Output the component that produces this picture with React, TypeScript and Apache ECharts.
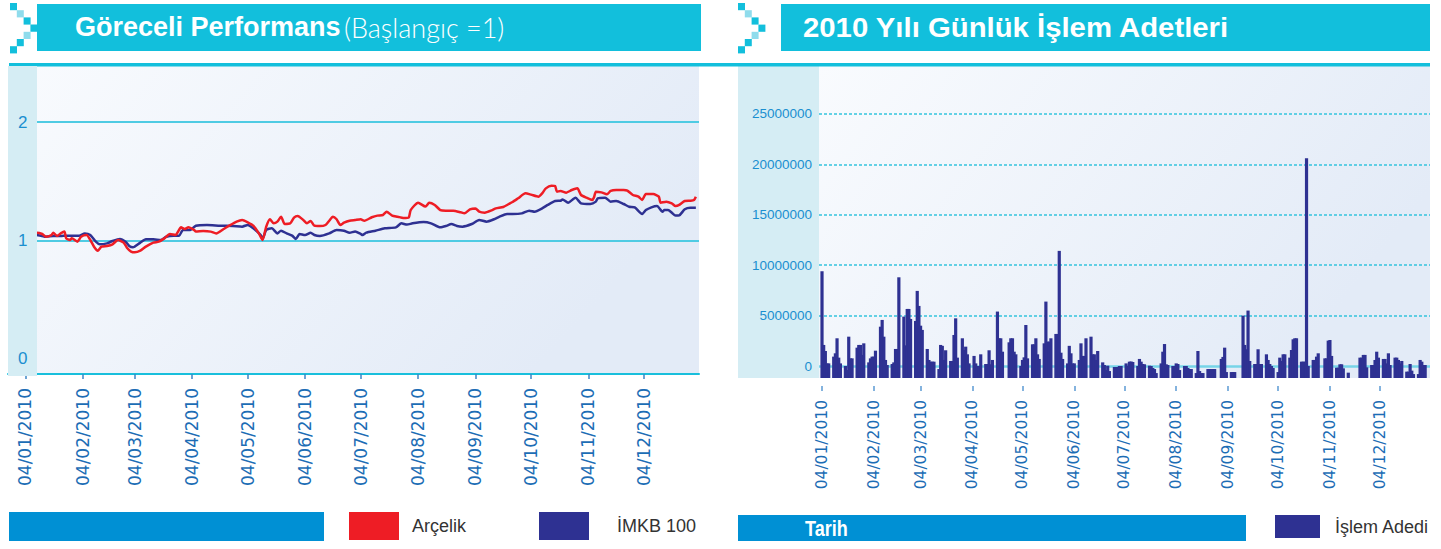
import React, { useEffect, useRef } from 'react';
import * as echarts from 'echarts';

// ---------- data ----------
const DAY = 86400000;
const Y0 = Date.UTC(2010, 0, 1);

const tickLabels = ['04/01/2010', '04/02/2010', '04/03/2010', '04/04/2010', '04/05/2010', '04/06/2010',
  '04/07/2010', '04/08/2010', '04/09/2010', '04/10/2010', '04/11/2010', '04/12/2010'];

const perfTicks = [0, 1, 2];
const perfGridLines = [1, 2];
const volTicks = [0, 5, 10, 15, 20, 25]; // millions

// Relative performance (start = 1); x = day of year 2010 (0 = 1 Jan)
const arcelikDays = [3, 6, 9, 12, 14, 17, 18, 20, 22, 24, 25, 27, 28, 31, 33, 36, 38, 40, 42, 44, 47, 50, 53, 56, 58, 60, 62, 65, 68, 72, 75, 78, 81, 84, 87, 89, 91, 94, 95, 99, 103, 106, 110, 113, 117, 120, 123, 126, 129, 131, 133, 135, 137, 139, 141, 143, 146, 148, 150, 153, 155, 157, 159, 162, 165, 167, 169, 171, 173, 175, 178, 181, 184, 186, 190, 193, 196, 198, 201, 204, 207, 210, 211, 215, 219, 221, 224, 227, 230, 234, 238, 240, 243, 246, 248, 251, 255, 257, 261, 264, 266, 269, 273, 276, 280, 282, 284, 287, 289, 290, 292, 295, 298, 301, 303, 306, 309, 310, 311, 314, 317, 319, 322, 326, 328, 331, 334, 336, 338, 342, 345, 346, 349, 352, 354, 356, 359, 362, 364, 365];
const arcelikValues = [1.0, 1.05, 1.066, 1.055, 1.032, 1.046, 1.066, 1.038, 1.06, 1.075, 1.018, 1.004, 1.018, 0.99, 1.032, 1.046, 1.004, 0.948, 0.914, 0.948, 0.954, 0.968, 1.004, 0.982, 0.934, 0.906, 0.9, 0.914, 0.948, 0.982, 0.99, 1.018, 1.055, 1.046, 1.111, 1.097, 1.111, 1.089, 1.075, 1.08, 1.075, 1.06, 1.097, 1.125, 1.159, 1.173, 1.153, 1.125, 1.06, 1.004, 1.117, 1.179, 1.145, 1.159, 1.201, 1.139, 1.145, 1.193, 1.207, 1.173, 1.145, 1.165, 1.125, 1.122, 1.131, 1.167, 1.201, 1.179, 1.131, 1.15, 1.167, 1.173, 1.179, 1.167, 1.196, 1.21, 1.215, 1.243, 1.21, 1.201, 1.19, 1.196, 1.257, 1.319, 1.286, 1.319, 1.3, 1.257, 1.252, 1.252, 1.238, 1.229, 1.263, 1.271, 1.243, 1.235, 1.257, 1.271, 1.283, 1.308, 1.325, 1.356, 1.398, 1.387, 1.37, 1.398, 1.44, 1.463, 1.46, 1.412, 1.418, 1.404, 1.426, 1.44, 1.384, 1.361, 1.342, 1.364, 1.412, 1.406, 1.39, 1.418, 1.426, 1.426, 1.421, 1.384, 1.37, 1.342, 1.392, 1.392, 1.37, 1.319, 1.328, 1.314, 1.291, 1.3, 1.333, 1.336, 1.342, 1.37];

const imkbDays = [3, 6, 9, 12, 14, 18, 22, 25, 29, 32, 35, 38, 41, 43, 47, 50, 54, 57, 59, 61, 65, 68, 72, 76, 79, 83, 86, 88, 92, 95, 101, 108, 115, 120, 123, 126, 130, 131, 133, 136, 139, 141, 144, 147, 149, 151, 154, 157, 159, 162, 167, 171, 175, 178, 181, 184, 185, 187, 192, 197, 203, 206, 209, 212, 218, 222, 227, 230, 233, 236, 239, 244, 248, 252, 256, 259, 263, 266, 271, 275, 278, 282, 285, 289, 292, 293, 296, 300, 303, 308, 311, 312, 316, 319, 322, 326, 329, 332, 336, 338, 341, 344, 347, 348, 350, 352, 354, 356, 359, 362, 365];
const imkbValues = [1.0, 1.03, 1.046, 1.038, 1.032, 1.038, 1.038, 1.041, 1.041, 1.041, 1.06, 1.046, 0.99, 0.968, 0.976, 0.996, 1.013, 0.99, 0.954, 0.942, 0.982, 1.01, 1.01, 1.004, 1.032, 1.041, 1.041, 1.089, 1.089, 1.125, 1.131, 1.125, 1.122, 1.117, 1.131, 1.103, 1.046, 1.013, 1.089, 1.103, 1.06, 1.083, 1.06, 1.041, 1.013, 1.055, 1.046, 1.066, 1.046, 1.038, 1.06, 1.089, 1.083, 1.066, 1.075, 1.055, 1.046, 1.066, 1.083, 1.103, 1.111, 1.145, 1.134, 1.145, 1.156, 1.145, 1.111, 1.122, 1.139, 1.122, 1.117, 1.139, 1.173, 1.159, 1.179, 1.201, 1.224, 1.224, 1.229, 1.252, 1.243, 1.271, 1.3, 1.333, 1.336, 1.347, 1.319, 1.361, 1.314, 1.308, 1.328, 1.356, 1.361, 1.328, 1.333, 1.308, 1.285, 1.28, 1.224, 1.257, 1.28, 1.291, 1.243, 1.257, 1.257, 1.235, 1.21, 1.212, 1.263, 1.277, 1.277];

// Daily trade counts (millions), one value per weekday of each month; null = no session
const volJan = [null, 9.4, 2.09, 1.49, 0.26, 0.26, 0.93, 1.26, 2.75, 0.83, 0.26, 0.0, -0.4, 2.91, 0.76, 0.76, 1.82, 2.09, 2.09, 1.1, 2.25];
const volFeb = [0.36, 0.76, 0.93, 0.93, 1.52, 3.9, 4.57, 2.91, 0.6, 0.1, 0.2, 0.36, 1.69, 1.69, 8.8, 4.9, 2.05, 5.66, 5.66, 4.67];
const volMar = [4.47, 7.45, 5.96, 4.0, 3.58, 1.69, 0.6, 0.43, 0.43, 0.43, -0.3, 2.09, 2.0, 0.6, 1.56, 0.5, 0.5, 3.08, 4.73, 0.83, 2.75, 1.59, 1.92];
const volApr = [1.16, 0.26, 1.0, 0.26, 0.0, 0.0, 1.16, 0.2, 0.2, 1.56, 0.17, 0.6, 5.4, 2.75, 2.75, 1.42, null, 2.35, 2.75, 2.75, 1.42, 1.16];
const volMay = [0.0, 0.6, 0.86, 4.07, 0.76, 2.15, 2.15, 2.75, 1.16, 0.7, 2.25, 6.39, 2.42, 2.42, 2.75, 3.18, 3.18, 11.42, 1.32, 0.7, 0.26];
const volJun = [2.0, 1.26, 0.26, 0.26, 0.6, 2.25, 1.0, 1.0, 2.75, 2.91, 1.16, 1.16, 0.6, 1.49, 0.36, 0.1, -0.4, 0.03, -0.5, -0.1, -0.1, -0.1];
const volJul = [0.0, 0.0, 0.26, 0.02, 0.43, 0.45, 0.4, 0.0, 0.7, 0.43, 0.2, 0.17, 0.03, 0.0, -0.2, -0.3, -0.7, 0.26, 1.42, 2.18, 0.17, 0.1];
const volAug = [0.0, 0.0, 0.26, 0.2, -0.4, 0.0, 0.0, -0.2, -0.3, -0.3, -0.7, 1.49, -0.5, -0.7, -0.7, -0.3, -0.3, -0.3, -0.3, -0.3, null, 0.7];
const volSep = [0.9, 1.82, -0.6, -0.6, -0.6, -0.6, null, null, 5.0, 2.09, 1.66, 5.5, 0.5, 0.2, 0.2, 1.66, 0.2, 0.2, 1.16, 0.6, 0.2, 0.0];
const volOct = [-0.2, -0.6, 0.83, 0.5, 1.16, 1.16, 0.83, 1.59, 2.65, 2.75, 2.75, 0.43, 0.43, 0.43, 20.6, 0.0, 0.6, 0.6, 0.93, 1.26, null];
const volNov = [0.76, 0.76, 2.52, 2.58, 1.0, -0.17, -0.17, 0.17, 0.17, -0.23, -0.66, null, null, null, null, 0.83, 0.83, 1.1, 1.1, -0.13, 0.1, 0.1];
const volDec = [0.6, 1.42, 0.83, 0.7, 0.7, 0.26, 1.26, 0.1, 0.83, 0.83, 0.6, 0.26, 0.5, -0.56, -0.56, 0.2, -0.46, -0.8, -0.8, 0.6, 0.43, 0.1, 0.1];
const volMonths = [volJan, volFeb, volMar, volApr, volMay, volJun, volJul, volAug, volSep, volOct, volNov, volDec];

// ---------- helpers ----------
const tickDays = tickLabels.map((s) => {
  const [dd, mm, yy] = s.split('/').map(Number);
  return (Date.UTC(yy, mm - 1, dd) - Y0) / DAY;
});
const fmtDay = (v: number) => {
  const i = tickDays.findIndex((d) => Math.abs(d - v) < 0.01);
  return i >= 0 ? tickLabels[i] : '';
};
function weekdaysOf(month: number): number[] {
  const out: number[] = [];
  const n = new Date(Date.UTC(2010, month + 1, 0)).getUTCDate();
  for (let day = 1; day <= n; day++) {
    const t = Date.UTC(2010, month, day);
    const wd = new Date(t).getUTCDay();
    if (wd !== 0 && wd !== 6) out.push((t - Y0) / DAY);
  }
  return out;
}
const volData: [number, number][] = [];
volMonths.forEach((vals, m) => {
  const days = weekdaysOf(m);
  vals.forEach((v, i) => {
    if (v !== null && days[i] !== undefined) volData.push([days[i], v]);
  });
});
const arcelikData = arcelikDays.map((d, i) => [d, arcelikValues[i]]);
const imkbData = imkbDays.map((d, i) => [d, imkbValues[i]]);

// ---------- styling ----------
const SANS = '"Liberation Sans", Arial, sans-serif';
const CYAN = '#12bfdc';
const CYAN_L = '#8fdcec';
const NAVY = '#2e3192';
const RED = '#ee1d25';
const BLUE_BAR = '#0090d4';
const STRIP = '#d5edf4';
const LABEL_BLUE = '#1a8fd0';

const plotBg = () =>
  new echarts.graphic.LinearGradient(0, 0, 1, 0.4, [
    { offset: 0, color: '#f9fbfe' },
    { offset: 1, color: '#e3ebf7' },
  ]);

const chevron = (ox: number) => {
  const cols = [0, 1, 2, 3, 2, 1, 0];
  const colors = [CYAN, CYAN_L, CYAN, CYAN, CYAN_L, CYAN, CYAN];
  return cols.map((c, r) => ({
    type: 'rect',
    silent: true,
    shape: { x: ox + c * 6.8, y: 3 + r * 7.2, width: 7, height: 7.2 },
    style: { fill: colors[r] },
    z: 5,
  }));
};

const legendText = { color: '#333', fontSize: 18, fontFamily: SANS };

const option: any = {
  animation: false,
  backgroundColor: '#ffffff',
  grid: [
    { left: 8, top: 66, width: 691, height: 308, show: true, backgroundColor: plotBg(), borderWidth: 0, outerBoundsMode: 'none', containLabel: false },
    { left: 819, top: 66, width: 611, height: 312, show: true, backgroundColor: plotBg(), borderWidth: 0, outerBoundsMode: 'none', containLabel: false },
  ],
  xAxis: [
    {
      type: 'value', gridIndex: 0, min: -6.45, max: 366.7,
      axisLine: { show: true, onZero: false, lineStyle: { color: '#19bfdc', width: 2 } },
      axisTick: { show: true, customValues: tickDays, length: 5, lineStyle: { color: '#3d86c6', width: 1.5 } },
      axisLabel: { customValues: tickDays, rotate: 90, margin: 14, formatter: fmtDay, color: '#1c6db5', fontSize: 17, fontFamily: '"DejaVu Sans", sans-serif' },
      splitLine: { show: false },
    },
    {
      type: 'value', gridIndex: 1, min: 1.2, max: 366.9, offset: 8,
      axisLine: { show: false, onZero: false },
      axisTick: { show: true, customValues: tickDays, length: 5, lineStyle: { color: '#5b9ad3', width: 1.5 } },
      axisLabel: { customValues: tickDays, rotate: 90, margin: 14, formatter: fmtDay, color: '#1c6db5', fontSize: 15.5, fontFamily: '"DejaVu Sans", sans-serif' },
      splitLine: { show: false },
    },
  ],
  yAxis: [
    {
      type: 'value', gridIndex: 0, min: -0.1266, max: 2.4726, z: 20,
      axisLine: { show: false }, axisTick: { show: false }, splitLine: { show: false },
      axisLabel: { customValues: perfTicks, inside: true, margin: 10, color: LABEL_BLUE, fontSize: 17, fontFamily: SANS },
    },
    {
      type: 'value', gridIndex: 1, min: -1.19, max: 29.76, startValue: -1.19, z: 20,
      axisLine: { show: false }, axisTick: { show: false }, splitLine: { show: false },
      axisLabel: { customValues: volTicks, margin: 7, color: LABEL_BLUE, fontSize: 13.5, fontFamily: SANS, formatter: (v: number) => String(Math.round(v * 1000000)) },
    },
  ],
  legend: [
    { data: ['Arçelik'], left: 349, top: 512, padding: 0, itemWidth: 50, itemHeight: 28, icon: 'rect', selectedMode: false, itemStyle: { borderWidth: 0 }, textStyle: { ...legendText, padding: [0, 0, 0, 8] } },
    { data: ['İMKB 100'], left: 539, top: 512, padding: 0, itemWidth: 50, itemHeight: 28, icon: 'rect', selectedMode: false, itemStyle: { borderWidth: 0 }, textStyle: { ...legendText, padding: [0, 0, 0, 23] } },
    { data: ['İşlem Adedi'], left: 1275, top: 515, padding: 0, itemWidth: 45, itemHeight: 23, icon: 'rect', selectedMode: false, itemStyle: { borderWidth: 0 }, textStyle: { ...legendText, padding: [0, 0, 0, 10] } },
  ],
  series: [
    {
      name: 'İMKB 100', type: 'line', xAxisIndex: 0, yAxisIndex: 0, data: imkbData,
      symbol: 'none', smooth: 0.2, color: NAVY, lineStyle: { width: 2.5, color: NAVY }, z: 2,
      markLine: {
        silent: true, symbol: 'none', z: 1, label: { show: false }, emphasis: { disabled: true },
        lineStyle: { color: '#4fcbe3', width: 2, type: 'solid' },
        data: perfGridLines.map((v) => ({ yAxis: v })),
      },
    },
    {
      name: 'Arçelik', type: 'line', xAxisIndex: 0, yAxisIndex: 0, data: arcelikData,
      symbol: 'none', smooth: 0.2, color: RED, lineStyle: { width: 2.5, color: RED }, z: 3,
    },
    {
      name: 'İşlem Adedi', type: 'bar', xAxisIndex: 1, yAxisIndex: 1, data: volData,
      barWidth: 3.2, color: NAVY, itemStyle: { color: NAVY }, z: 2,
      markLine: {
        silent: true, symbol: 'none', z: 1, label: { show: false }, emphasis: { disabled: true },
        lineStyle: { color: '#35c3dd', width: 1.5, type: [3, 2] },
        data: volTicks.map((v) => (v === 0 ? { yAxis: v, lineStyle: { color: '#76d4e8', width: 2.5, type: 'solid' } } : { yAxis: v })),
      },
    },
  ],
  graphic: [
    // header bars
    { type: 'rect', silent: true, shape: { x: 37, y: 4, width: 664, height: 47 }, style: { fill: CYAN }, z: 4 },
    { type: 'rect', silent: true, shape: { x: 781, y: 4, width: 649, height: 47 }, style: { fill: CYAN }, z: 4 },
    ...chevron(10),
    ...chevron(738),
    {
      type: 'text', silent: true, x: 75, y: 27, z: 6,
      style: {
        text: '{b|Göreceli Performans} {l|(Başlangıç =1)}', fill: '#fff', verticalAlign: 'middle',
        rich: {
          b: { fill: '#fff', fontFamily: SANS, fontWeight: 'bold', fontSize: 27 },
          l: { fill: '#fff', fontFamily: 'Lato, sans-serif', fontWeight: 300, fontSize: 27 },
        },
      },
    },
    {
      type: 'text', silent: true, x: 803, y: 27, z: 6, scaleX: 1.086,
      style: { text: '2010 Yılı Günlük İşlem Adetleri', fill: '#fff', verticalAlign: 'middle', fontFamily: SANS, fontWeight: 'bold', fontSize: 27 },
    },
    // separator line
    { type: 'rect', silent: true, shape: { x: 9, y: 63, width: 1421, height: 3.5 }, style: { fill: CYAN }, z: 4 },
    // y label strips
    { type: 'rect', silent: true, shape: { x: 8, y: 66, width: 29, height: 310 }, style: { fill: STRIP }, z: 10 },
    { type: 'rect', silent: true, shape: { x: 738, y: 66, width: 81, height: 312 }, style: { fill: STRIP }, z: 1 },
    // bottom bars
    { type: 'rect', silent: true, shape: { x: 9, y: 512, width: 315, height: 29 }, style: { fill: BLUE_BAR }, z: 4 },
    { type: 'rect', silent: true, shape: { x: 738, y: 515, width: 508, height: 26 }, style: { fill: BLUE_BAR }, z: 4 },
    {
      type: 'text', silent: true, x: 805, y: 528, z: 6, scaleX: 0.82,
      style: { text: 'Tarih', fill: '#fff', verticalAlign: 'middle', fontFamily: SANS, fontWeight: 'bold', fontSize: 22 },
    },
  ],
};

export default function App() {
  const ref = useRef<HTMLDivElement>(null);
  useEffect(() => {
    if (!ref.current) return;
    const chart = echarts.init(ref.current, null, { renderer: 'svg' });
    chart.setOption(option);
    return () => chart.dispose();
  }, []);
  return (
    <div
      ref={ref}
      style={{ position: 'absolute', left: 0, top: 0, width: 1441, height: 549, background: '#fff' }}
    />
  );
}
